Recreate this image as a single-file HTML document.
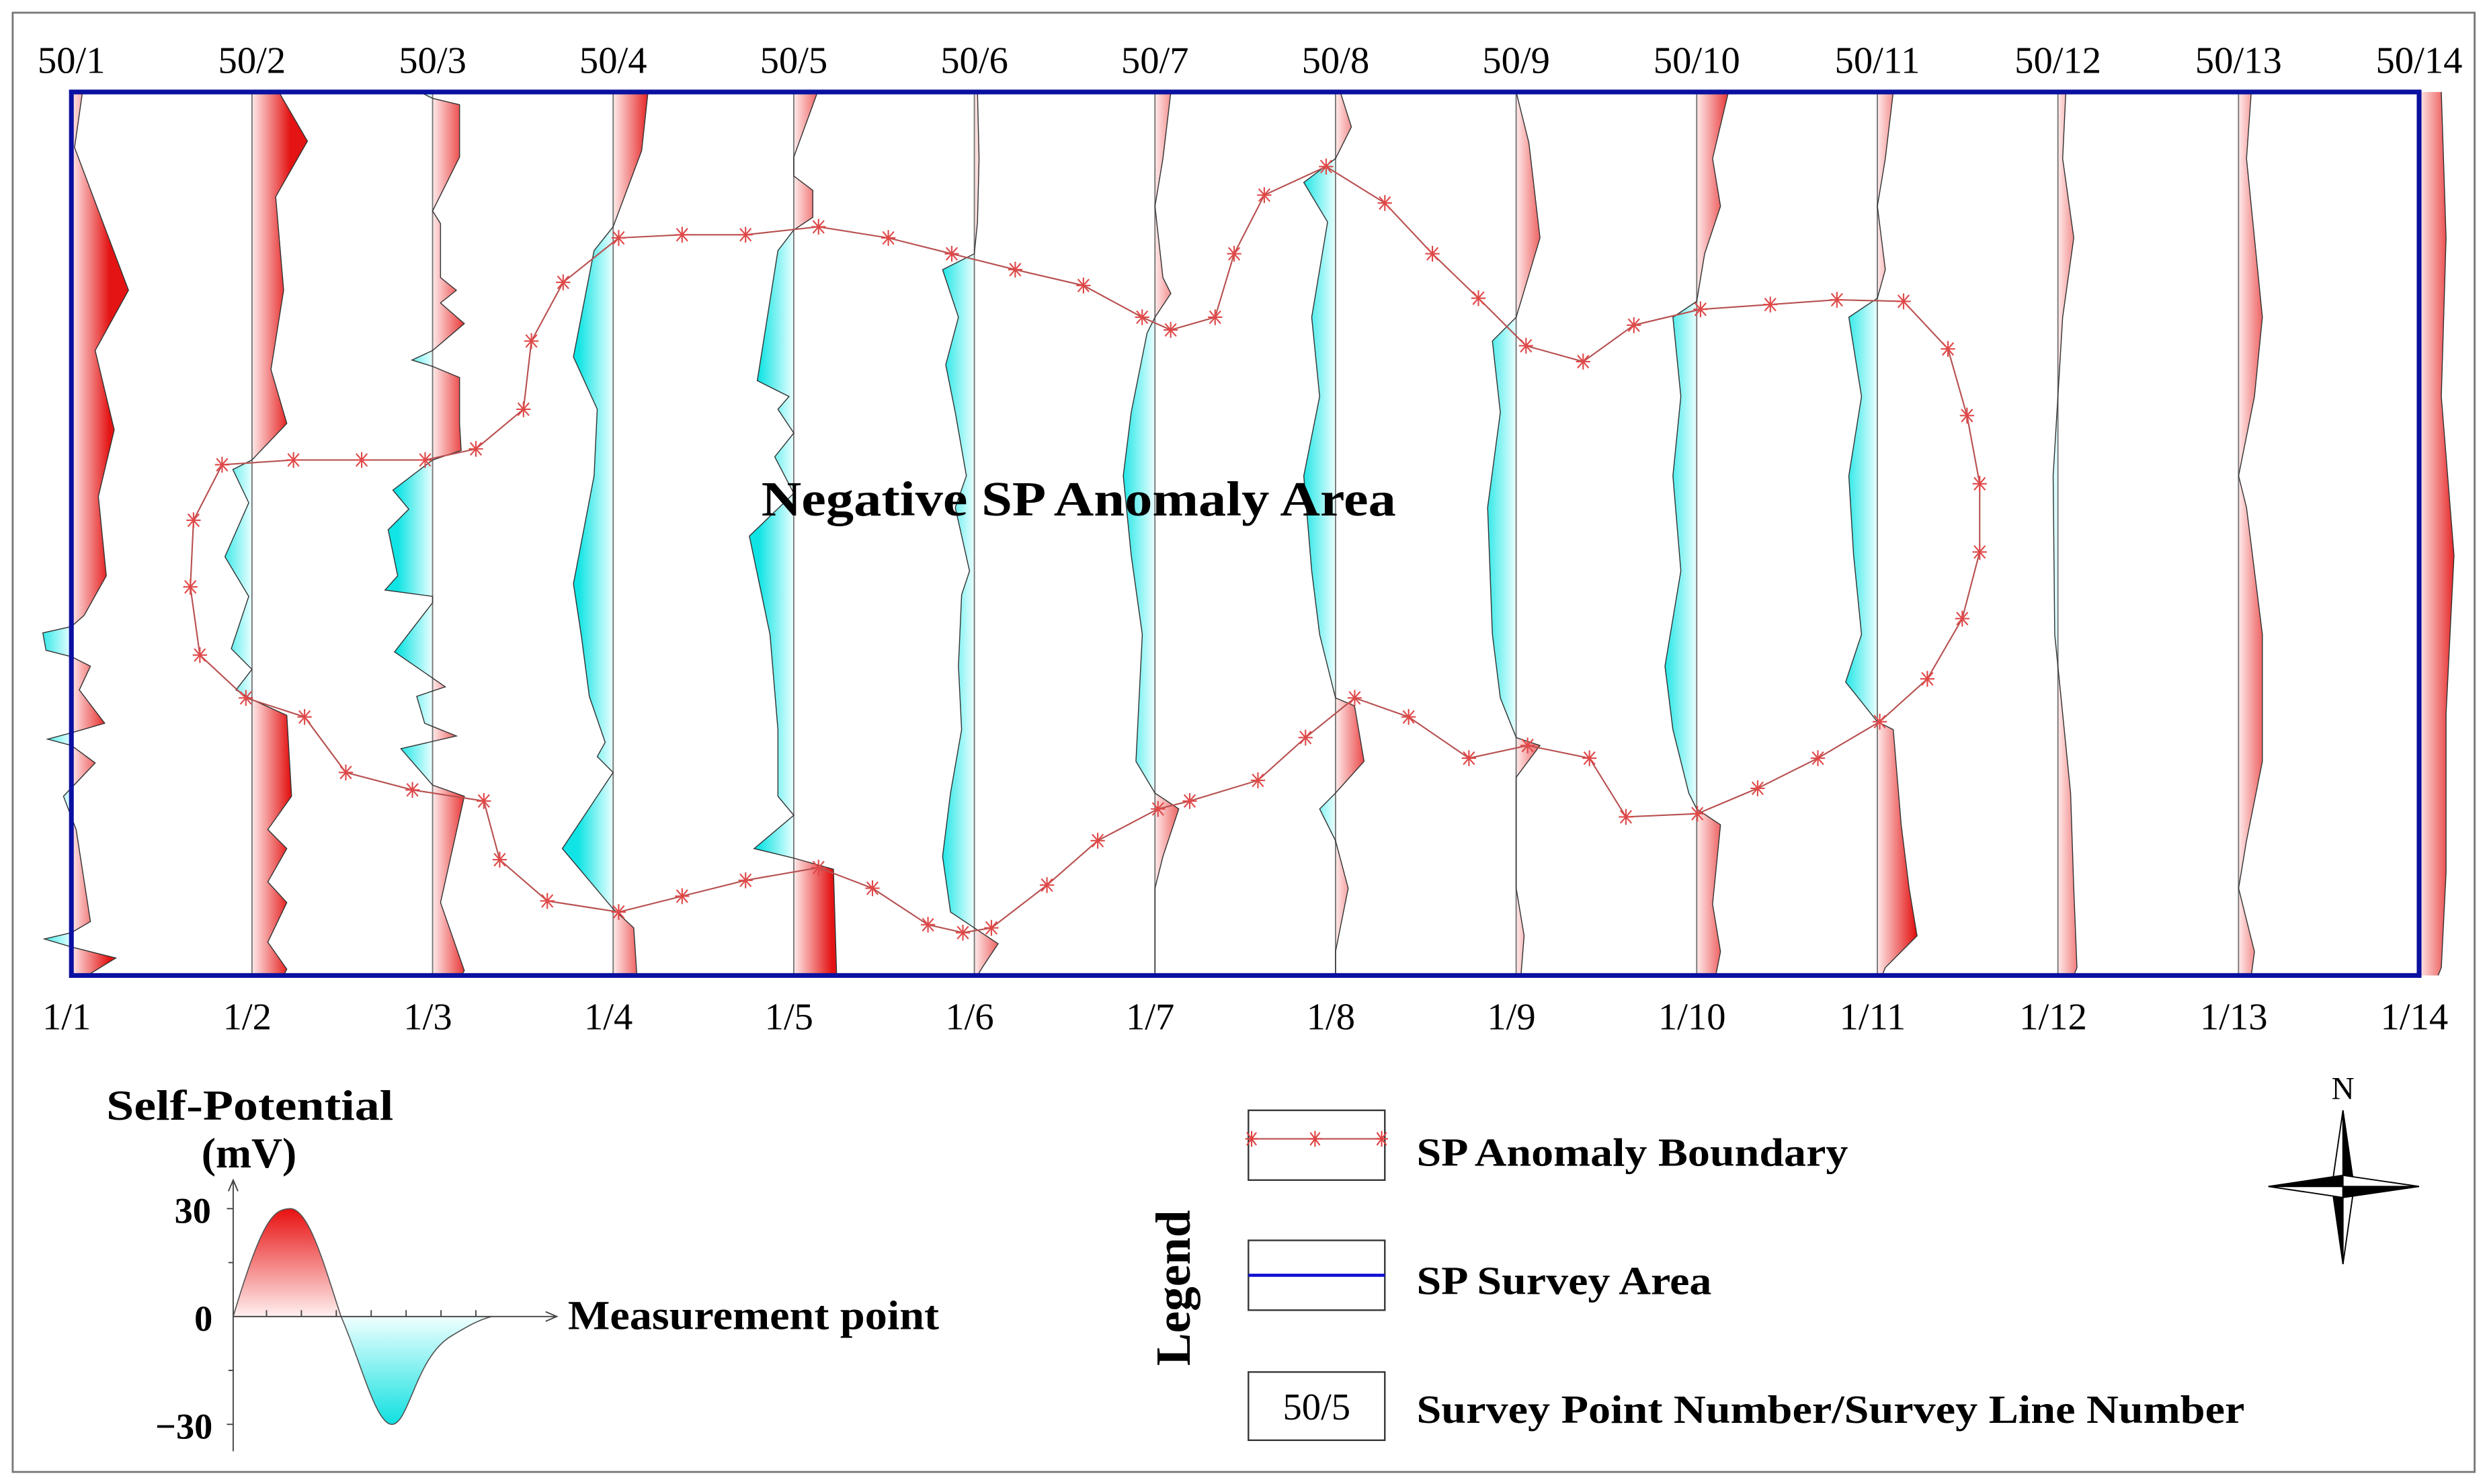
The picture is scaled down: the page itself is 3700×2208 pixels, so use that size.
<!DOCTYPE html>
<html><head><meta charset="utf-8"><style>
html,body{margin:0;padding:0;background:#fff}
svg{display:block}
text{font-family:"Liberation Serif",serif}
</style></head><body>
<svg id="chart" width="3700" height="2208" viewBox="0 0 1567.8 935.6" xmlns="http://www.w3.org/2000/svg">
<defs id="defs">
<linearGradient id="lgRed" x1="0" y1="1" x2="0" y2="0"><stop offset="0" stop-color="#fff0f0"/><stop offset="1" stop-color="#e81010"/></linearGradient>
<linearGradient id="lgCyan" x1="0" y1="0" x2="0" y2="1"><stop offset="0" stop-color="#f0ffff"/><stop offset="1" stop-color="#10e0e0"/></linearGradient>
</defs>
<rect x="8" y="8" width="1552" height="920" fill="none" stroke="#777" stroke-width="1.2"/>
<g id="profiles"></g>
<g id="boundary"></g>
<rect x="45" y="58" width="1480" height="557" fill="none" stroke="#0a10a0" stroke-width="3"/>
<g id="toplabels"></g>
<g id="botlabels"></g>
<text x="480" y="325" font-size="31" font-weight="bold" textLength="400" lengthAdjust="spacingAndGlyphs">Negative SP Anomaly Area</text>

<g>
<text x="67" y="706" font-size="27" font-weight="bold" textLength="181" lengthAdjust="spacingAndGlyphs">Self-Potential</text>
<text x="157" y="736" font-size="27" font-weight="bold" text-anchor="middle">(mV)</text>
<path d="M147,830 C165,770 172,762 183,762 C195,762 205,800 215,830 Z" fill="url(#lgRed)" stroke="#555" stroke-width="0.7"/>
<path d="M215,830 C228,860 237,898 247,898 C258,898 262,855 285,842 C295,836 302,832 310,830 Z" fill="url(#lgCyan)" stroke="#555" stroke-width="0.7"/>
<line x1="147" y1="915" x2="147" y2="745" stroke="#444" stroke-width="0.8"/>
<path d="M144,751 L147,744 L150,751" fill="none" stroke="#444" stroke-width="0.8"/>
<line x1="147" y1="830" x2="350" y2="830" stroke="#444" stroke-width="0.8"/>
<path d="M344,827 L351,830 L344,833" fill="none" stroke="#444" stroke-width="0.8"/>
<g stroke="#444" stroke-width="0.8"><line x1="168" y1="830" x2="168" y2="826"/><line x1="190" y1="830" x2="190" y2="826"/><line x1="212" y1="830" x2="212" y2="826"/><line x1="234" y1="830" x2="234" y2="826"/><line x1="256" y1="830" x2="256" y2="826"/><line x1="278" y1="830" x2="278" y2="826"/><line x1="300" y1="830" x2="300" y2="826"/><line x1="147" y1="762" x2="143" y2="762"/><line x1="147" y1="796" x2="144" y2="796"/><line x1="147" y1="864" x2="144" y2="864"/><line x1="147" y1="898" x2="143" y2="898"/></g>
<text x="133" y="771" font-size="23" font-weight="bold" text-anchor="end">30</text>
<text x="134" y="839" font-size="23" font-weight="bold" text-anchor="end">0</text>
<text x="134" y="907" font-size="23" font-weight="bold" text-anchor="end">−30</text>
<text x="358" y="838" font-size="26" font-weight="bold" textLength="234" lengthAdjust="spacingAndGlyphs">Measurement point</text>
</g>

<g>
<text transform="translate(750,812) rotate(-90)" font-size="31" font-weight="bold" text-anchor="middle">Legend</text>
<rect x="787" y="700" width="86" height="44" fill="#fff" stroke="#333" stroke-width="1"/>
<line x1="787" y1="718" x2="873" y2="718" stroke="#c06060" stroke-width="1"/>
<g fill="none" stroke="#e04040" stroke-width="0.9">
<path d="M786,714 l6,8 M792,714 l-6,8 M785,718 h8 M789,713 v10"/>
<path d="M826,714 l6,8 M832,714 l-6,8 M825,718 h8 M829,713 v10"/>
<path d="M868,714 l6,8 M874,714 l-6,8 M867,718 h8 M871,713 v10"/>
</g>
<text x="893" y="735" font-size="25" font-weight="bold" textLength="272" lengthAdjust="spacingAndGlyphs">SP Anomaly Boundary</text>
<rect x="787" y="782" width="86" height="44" fill="#fff" stroke="#333" stroke-width="1"/>
<line x1="787" y1="804" x2="873" y2="804" stroke="#1010d0" stroke-width="2"/>
<text x="893" y="816" font-size="25" font-weight="bold" textLength="186" lengthAdjust="spacingAndGlyphs">SP Survey Area</text>
<rect x="787" y="865" width="86" height="43" fill="#fff" stroke="#333" stroke-width="1"/>
<text x="830" y="895" font-size="24" text-anchor="middle">50/5</text>
<text x="893" y="897" font-size="25" font-weight="bold" textLength="522" lengthAdjust="spacingAndGlyphs">Survey Point Number/Survey Line Number</text>
</g>

<g stroke="#000" stroke-width="0.8">
<text x="1477" y="693" font-size="20" text-anchor="middle" stroke="none">N</text>
<polygon points="1477,700 1484,748 1477,748" fill="#000"/>
<polygon points="1477,700 1470,748 1477,748" fill="#fff"/>
<polygon points="1477,797 1470,748 1477,748" fill="#000"/>
<polygon points="1477,797 1484,748 1477,748" fill="#fff"/>
<polygon points="1430,748 1477,741 1477,748" fill="#000"/>
<polygon points="1430,748 1477,755 1477,748" fill="#fff"/>
<polygon points="1525,748 1477,755 1477,748" fill="#000"/>
<polygon points="1525,748 1477,741 1477,748" fill="#fff"/>
</g>
</svg>
<script>
const lineLabelsTop = ["50/1","50/2","50/3","50/4","50/5","50/6","50/7","50/8","50/9","50/10","50/11","50/12","50/13","50/14"];
const lineLabelsBottom = ["1/1","1/2","1/3","1/4","1/5","1/6","1/7","1/8","1/9","1/10","1/11","1/12","1/13","1/14"];
const prof1 = [[58,7],[93,2],[183,36],[221,15],[271,27],[313,17],[363,22],[388,8],[395,0],[399,-18],[410,-16],[414,0],[420,12],[435,5],[456,21],[462,0],[466,-15],[470,0],[481,15],[502,-5],[523,3],[581,12],[588,0],[592,-17],[597,0],[604,28],[615,10]];
const prof2 = [[58,17],[89,35],[124,15],[183,20],[233,12],[267,22],[290,0],[296,-12],[317,-2],[351,-17],[376,-2],[409,-13],[422,0],[435,-10],[441,0],[451,22],[502,25],[523,10],[535,22],[556,10],[569,22],[594,10],[611,22],[615,20]];
const prof3 = [[58,-8],[62,0],[66,17],[99,17],[133,0],[141,5],[175,5],[183,15],[191,5],[204,20],[221,0],[227,-13],[231,0],[238,17],[267,17],[284,18],[290,0],[309,-25],[321,-15],[334,-28],[363,-22],[372,-30],[376,0],[380,0],[411,-24],[433,8],[439,-10],[456,-5],[464,15],[472,-20],[495,0],[502,20],[569,5],[612,20],[615,18]];
const prof4 = [[58,22],[95,18],[143,0],[158,-12],[225,-25],[258,-10],[300,-12],[368,-25],[401,-20],[439,-15],[468,-5],[477,-10],[487,0],[535,-32],[573,0],[585,13],[615,15]];
const prof5 = [[58,15],[99,0],[111,0],[120,12],[137,12],[145,0],[158,-10],[240,-23],[250,-3],[258,-10],[273,0],[288,-12],[311,0],[338,-28],[400,-15],[460,-10],[502,-10],[514,0],[535,-25],[541,0],[548,25],[615,27]];
const prof6 = [[58,2],[100,3],[140,2],[160,0],[170,-20],[200,-10],[230,-18],[260,-12],[300,-5],[320,-12],[360,-3],[375,-8],[420,-10],[460,-8],[500,-15],[540,-20],[575,-15],[585,0],[595,15],[610,5],[615,2]];
const prof7 = [[58,10],[100,5],[130,0],[175,5],[185,10],[200,0],[210,-5],[260,-15],[300,-20],[350,-15],[400,-8],[440,-10],[480,-12],[500,0],[510,15],[540,5],[560,0],[615,0]];
const prof8 = [[58,3],[80,10],[100,0],[115,-20],[140,-5],[170,-10],[200,-15],[250,-10],[300,-20],[360,-15],[400,-10],[440,0],[445,12],[480,18],[500,0],[510,-10],[530,0],[560,8],[600,0],[615,0]];
const prof9 = [[58,0],[90,8],[150,15],[200,0],[215,-15],[260,-10],[320,-18],[400,-15],[440,-10],[465,0],[470,15],[490,0],[560,0],[590,5],[615,3]];
const prof10 = [[58,20],[100,10],[130,15],[160,5],[190,0],[200,-15],[250,-10],[300,-15],[360,-10],[420,-20],[460,-15],[500,-5],[510,0],[520,15],[570,10],[600,15],[615,12]];
const prof11 = [[58,10],[100,5],[130,0],[170,5],[188,0],[200,-18],[250,-10],[300,-18],[350,-15],[400,-10],[430,-20],[455,0],[460,10],[520,15],[560,20],[590,25],[610,5],[615,3]];
const prof12 = [[58,5],[100,3],[150,10],[200,3],[300,-3],[400,-2],[450,3],[500,8],[560,10],[610,12],[615,10]];
const prof13 = [[58,8],[100,5],[200,15],[250,10],[300,0],[320,5],[400,15],[480,15],[530,5],[560,0],[600,10],[615,8]];
const prof14 = [[58,14],[150,17],[250,14],[350,22],[450,17],[550,17],[610,14],[615,12]];
const profiles = [prof1,prof2,prof3,prof4,prof5,prof6,prof7,prof8,prof9,prof10,prof11,prof12,prof13,prof14];
const boundaryPts = [[140,293],[185,290],[228,290],[268,290],[300,283],[330,258],[335,215],[355,178],[390,150],[430,148],[470,148],[516,143],[560,150],[600,160],[640,170],[683,180],[720,200],[738,208],[766,200],[778,160],[797,123],[836,105],[873,128],[903,160],[932,188],[962,218],[998,228],[1030,205],[1072,195],[1116,192],[1158,189],[1200,190],[1228,220],[1240,262],[1248,305],[1248,348],[1237,390],[1215,428],[1185,455],[1146,478],[1108,497],[1070,513],[1025,515],[1002,478],[963,470],[926,478],[888,452],[854,440],[823,465],[793,492],[750,505],[730,510],[692,530],[660,558],[625,585],[607,588],[585,583],[550,560],[516,547],[470,555],[430,565],[390,575],[345,568],[315,542],[305,505],[260,498],[218,487],[192,452],[155,440],[126,413],[120,370],[122,328],[140,293]];

const NS = "http://www.w3.org/2000/svg";
const x0 = 45, dx = (1525-45)/13;
function lineX(i){ return x0 + i*dx; }
function chY(c){ return 58 + (c-58)*(615-58)/(615-58); }
function spX(v){ return v*1.0; }
function mk(tag, attrs, parent){ const e=document.createElementNS(NS,tag); for(const k in attrs) e.setAttribute(k,attrs[k]); parent.appendChild(e); return e; }

const defs = document.getElementById('defs');
const gP = document.getElementById('profiles');
profiles.forEach((pr, i) => {
  const bx = lineX(i);
  const gr = mk('linearGradient',{id:'gr'+i,gradientUnits:'userSpaceOnUse',x1:bx,y1:0,x2:bx+24,y2:0},defs);
  mk('stop',{offset:0,'stop-color':'#ffeaea'},gr); mk('stop',{offset:1,'stop-color':'#e41414'},gr);
  const gc = mk('linearGradient',{id:'gc'+i,gradientUnits:'userSpaceOnUse',x1:bx,y1:0,x2:bx-22,y2:0},defs);
  mk('stop',{offset:0,'stop-color':'#eaffff'},gc); mk('stop',{offset:1,'stop-color':'#10e4e4'},gc);
  const cr = mk('clipPath',{id:'cr'+i},defs); mk('rect',{x:bx,y:50,width:80,height:575},cr);
  const cc = mk('clipPath',{id:'cc'+i},defs); mk('rect',{x:bx-80,y:50,width:80,height:575},cc);
  const pts = pr.map(p => (bx+spX(p[1])).toFixed(1)+','+chY(p[0]).toFixed(1));
  const poly = bx+','+chY(pr[0][0])+' '+pts.join(' ')+' '+bx+','+chY(pr[pr.length-1][0]);
  const g = mk('g',{},gP);
  
  
  const pos = mk('polygon',{points:poly,fill:'url(#gr'+i+')','clip-path':'url(#cr'+i+')'},g);
  
  
  const neg = mk('polygon',{points:poly,fill:'url(#gc'+i+')','clip-path':'url(#cc'+i+')'},g);
  
  
  const base = mk('line',{x1:bx,y1:58,x2:bx,y2:615,stroke:'#777','stroke-width':0.8},g);
  
  
  const cur = mk('polyline',{points:pts.join(' '),fill:'none',stroke:'#333','stroke-width':0.6},g);
  
  
});

const gB = document.getElementById('boundary');
const bl = mk('polyline',{points:boundaryPts.map(p=>p[0]+','+chY(p[1])).join(' '),fill:'none',stroke:'#b85050','stroke-width':0.9},gB);


boundaryPts.slice(0,-1).forEach(p => {
  const x=p[0], y=chY(p[1]);
  const s = mk('path',{d:`M${x-3.5},${y-4} l7,8 M${x+3.5},${y-4} l-7,8 M${x-4.5},${y} h9 M${x},${y-5} v10`,fill:'none',stroke:'#e04848','stroke-width':0.9},gB);
  
  
});

const gT = document.getElementById('toplabels'), gBo = document.getElementById('botlabels');
lineLabelsTop.forEach((t,i) => {
  const e = mk('text',{x:lineX(i),y:46,'font-size':24,'text-anchor':'middle'},gT); e.textContent=t;
  
  
});
lineLabelsBottom.forEach((t,i) => {
  const e = mk('text',{x:lineX(i)-3,y:649,'font-size':24,'text-anchor':'middle'},gBo); e.textContent=t;
  
  
});
</script>
</body></html>
